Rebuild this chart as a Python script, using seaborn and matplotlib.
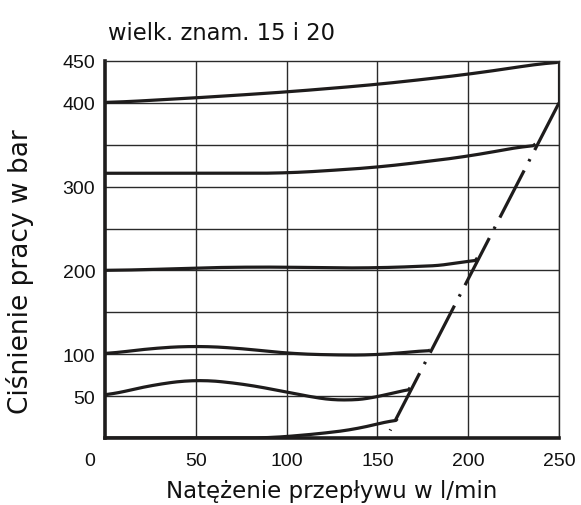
import numpy as np
import pandas as pd
import seaborn as sns
import matplotlib
matplotlib.use("Agg")
import matplotlib.pyplot as plt
from matplotlib.transforms import ScaledTranslation

# ---- data ----
c450_x = [0, 50, 100, 150, 200, 250]
c450_y = [400, 406, 413, 422, 434, 450]
edge_x = [250, 250]
edge_y = [450, 400]

c350_x = [0, 50, 100, 150, 200, 237]
c350_y = [316, 316, 316, 323, 336, 351]

c200_x = [0, 25, 50, 75, 100, 125, 150, 175, 195, 205]
c200_y = [200, 201, 203, 204, 204, 203, 203, 205, 207, 215]

c100_x = [0, 25, 50, 75, 100, 125, 150, 179]
c100_y = [100, 107, 110, 107, 101, 99, 99, 105]

c50_x = [0, 25, 50, 75, 100, 118, 131, 150, 168]
c50_y = [50, 63, 70, 65, 55, 47, 44, 48, 60]

c0_x = [0, 50, 90, 118, 140, 161]
c0_y = [0, 0, 0, 5, 11, 23]

limit_x = [250, 157]
limit_y = [400, 9]

x_ticks = [0, 50, 100, 150, 200, 250]
y_ticks = [50, 100, 200, 300, 400, 450]
y_grid = [50, 100, 150, 200, 250, 300, 350, 400]

title = "wielk. znam. 15 i 20"
xlabel = "Natężenie przepływu w l/min"
ylabel = "Ciśnienie pracy w bar"

# ---- plot ----
sns.set_theme(style="white")
plt.rcParams['font.family'] = ['Liberation Sans', 'DejaVu Sans']

fig = plt.figure(figsize=(5.81, 5.06), dpi=100)
ax = fig.add_axes([105/581, 1-439/506, (559-105)/581, (439-62)/506])

ink = "#1e1c1c"
lw = 2.3

curves = [(c450_x, c450_y), (edge_x, edge_y), (c350_x, c350_y), (c200_x, c200_y),
          (c100_x, c100_y), (c50_x, c50_y), (c0_x, c0_y)]
for cx, cy in curves:
    xs = np.asarray(cx, float)
    ys = np.asarray(cy, float)
    if len(xs) > 3:
        xx = np.linspace(xs[0], xs[-1], 200)
        yy = np.interp(xx, xs, ys)
        k = 15
        pad = np.pad(yy, k, mode='edge')
        yy = np.convolve(pad, np.ones(2*k+1)/(2*k+1), mode='same')[k:-k]
        yy[0], yy[-1] = ys[0], ys[-1]
    else:
        xx, yy = xs, ys
    sns.lineplot(x=xx, y=yy, ax=ax, color=ink, lw=lw, sort=False,
                 estimator=None, solid_capstyle='butt')

ln = sns.lineplot(x=limit_x, y=limit_y, ax=ax, color=ink, lw=lw, sort=False,
                  estimator=None)
ln.lines[-1].set_dashes((16.6, 3.2, 0.8, 3.2))
ln.lines[-1].set_dash_capstyle('butt')

ax.set_xlim(0, 250)
ax.set_ylim(0, 450)
ax.set_xticks(x_ticks)
ax.set_yticks(y_ticks)
for v in x_ticks[1:]:
    ax.axvline(v, color="#2a2a2a", lw=1.0, zorder=0)
for v in y_grid:
    ax.axhline(v, color="#2a2a2a", lw=1.0, zorder=0)

for side in ['top', 'right']:
    ax.spines[side].set_linewidth(1.0)
    ax.spines[side].set_color("#2a2a2a")
for side in ['left', 'bottom']:
    ax.spines[side].set_linewidth(2.6)
    ax.spines[side].set_color(ink)

ax.tick_params(axis='both', length=0, labelsize=14, colors="#111111")
ax.tick_params(axis='x', pad=10)
ax.tick_params(axis='y', pad=7)
fig.canvas.draw()
lbl0 = ax.get_xticklabels()[0]
lbl0.set_transform(lbl0.get_transform() + ScaledTranslation(-15/100, 0, fig.dpi_scale_trans))

lab_font = ['DejaVu Sans']
ax.set_xlabel(xlabel, fontsize=16.5, color="#111111", family=lab_font)
ax.xaxis.set_label_coords(0.5, (439-480)/377)
ax.set_ylabel(ylabel, fontsize=19, color="#111111", family=lab_font)
ax.yaxis.set_label_coords((34-105)/454, (439-272)/377)
ax.text((108-105)/454, (439-40)/377, title, transform=ax.transAxes,
        fontsize=16.3, color="#111111", family=lab_font, ha='left', va='baseline')

fig.savefig("out.png", dpi=100, facecolor="white")
